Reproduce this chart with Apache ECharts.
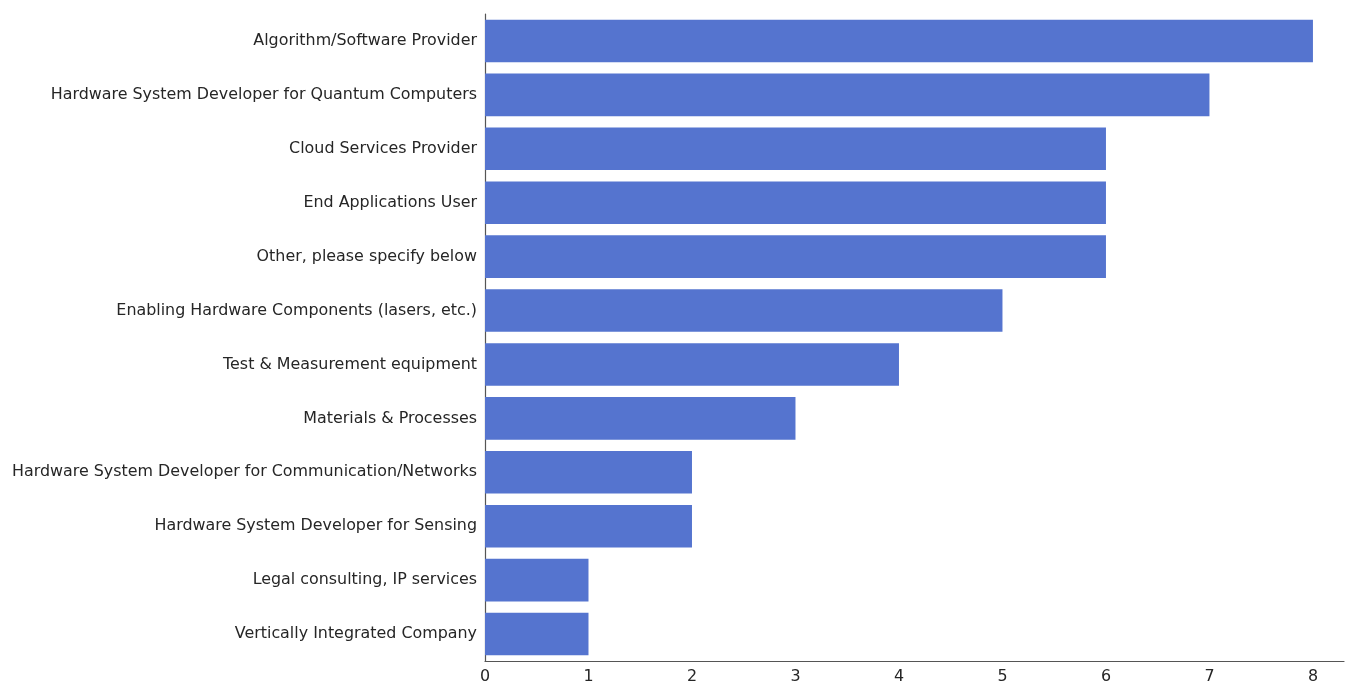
<!DOCTYPE html>
<html><head><meta charset="utf-8">
<script src="https://cdn.jsdelivr.net/npm/echarts@6/dist/echarts.min.js"></script>
<style>html,body{margin:0;padding:0;background:#fff;overflow:hidden}#c{width:1347px;height:685px}</style>
</head><body><div id="c"></div>
<script>
const categories = [
  "Algorithm/Software Provider",
  "Hardware System Developer for Quantum Computers",
  "Cloud Services Provider",
  "End Applications User",
  "Other, please specify below",
  "Enabling Hardware Components (lasers, etc.)",
  "Test & Measurement equipment",
  "Materials & Processes",
  "Hardware System Developer for Communication/Networks",
  "Hardware System Developer for Sensing",
  "Legal consulting, IP services",
  "Vertically Integrated Company"
];
const values = [8, 7, 6, 6, 6, 5, 4, 3, 2, 2, 1, 1];

const FONT = '"DejaVu Sans", sans-serif';
const chart = echarts.init(document.getElementById('c'));
chart.setOption({
  animation: false,
  textStyle: { fontFamily: FONT },
  grid: { left: 485, right: 0, top: 14, bottom: 22 },
  xAxis: {
    type: 'value', min: 0, max: 8.3, interval: 1,
    axisLine: { show: true, lineStyle: { color: '#555', width: 1.2 } },
    axisTick: { show: false },
    splitLine: { show: false },
    axisLabel: { color: '#262626', fontSize: 15.9, margin: 8, fontFamily: FONT,
      formatter: v => Number.isInteger(v) ? String(v) : '' }
  },
  yAxis: {
    type: 'category', data: categories, inverse: true,
    axisLine: { show: true, lineStyle: { color: '#555', width: 1.2 } },
    axisTick: { show: false },
    axisLabel: { color: '#262626', fontSize: 15.9, margin: 8, fontFamily: FONT }
  },
  series: [{
    type: 'bar', data: values, barCategoryGap: '21%',
    itemStyle: { color: '#5574cf' }
  }]
});
</script></body></html>
